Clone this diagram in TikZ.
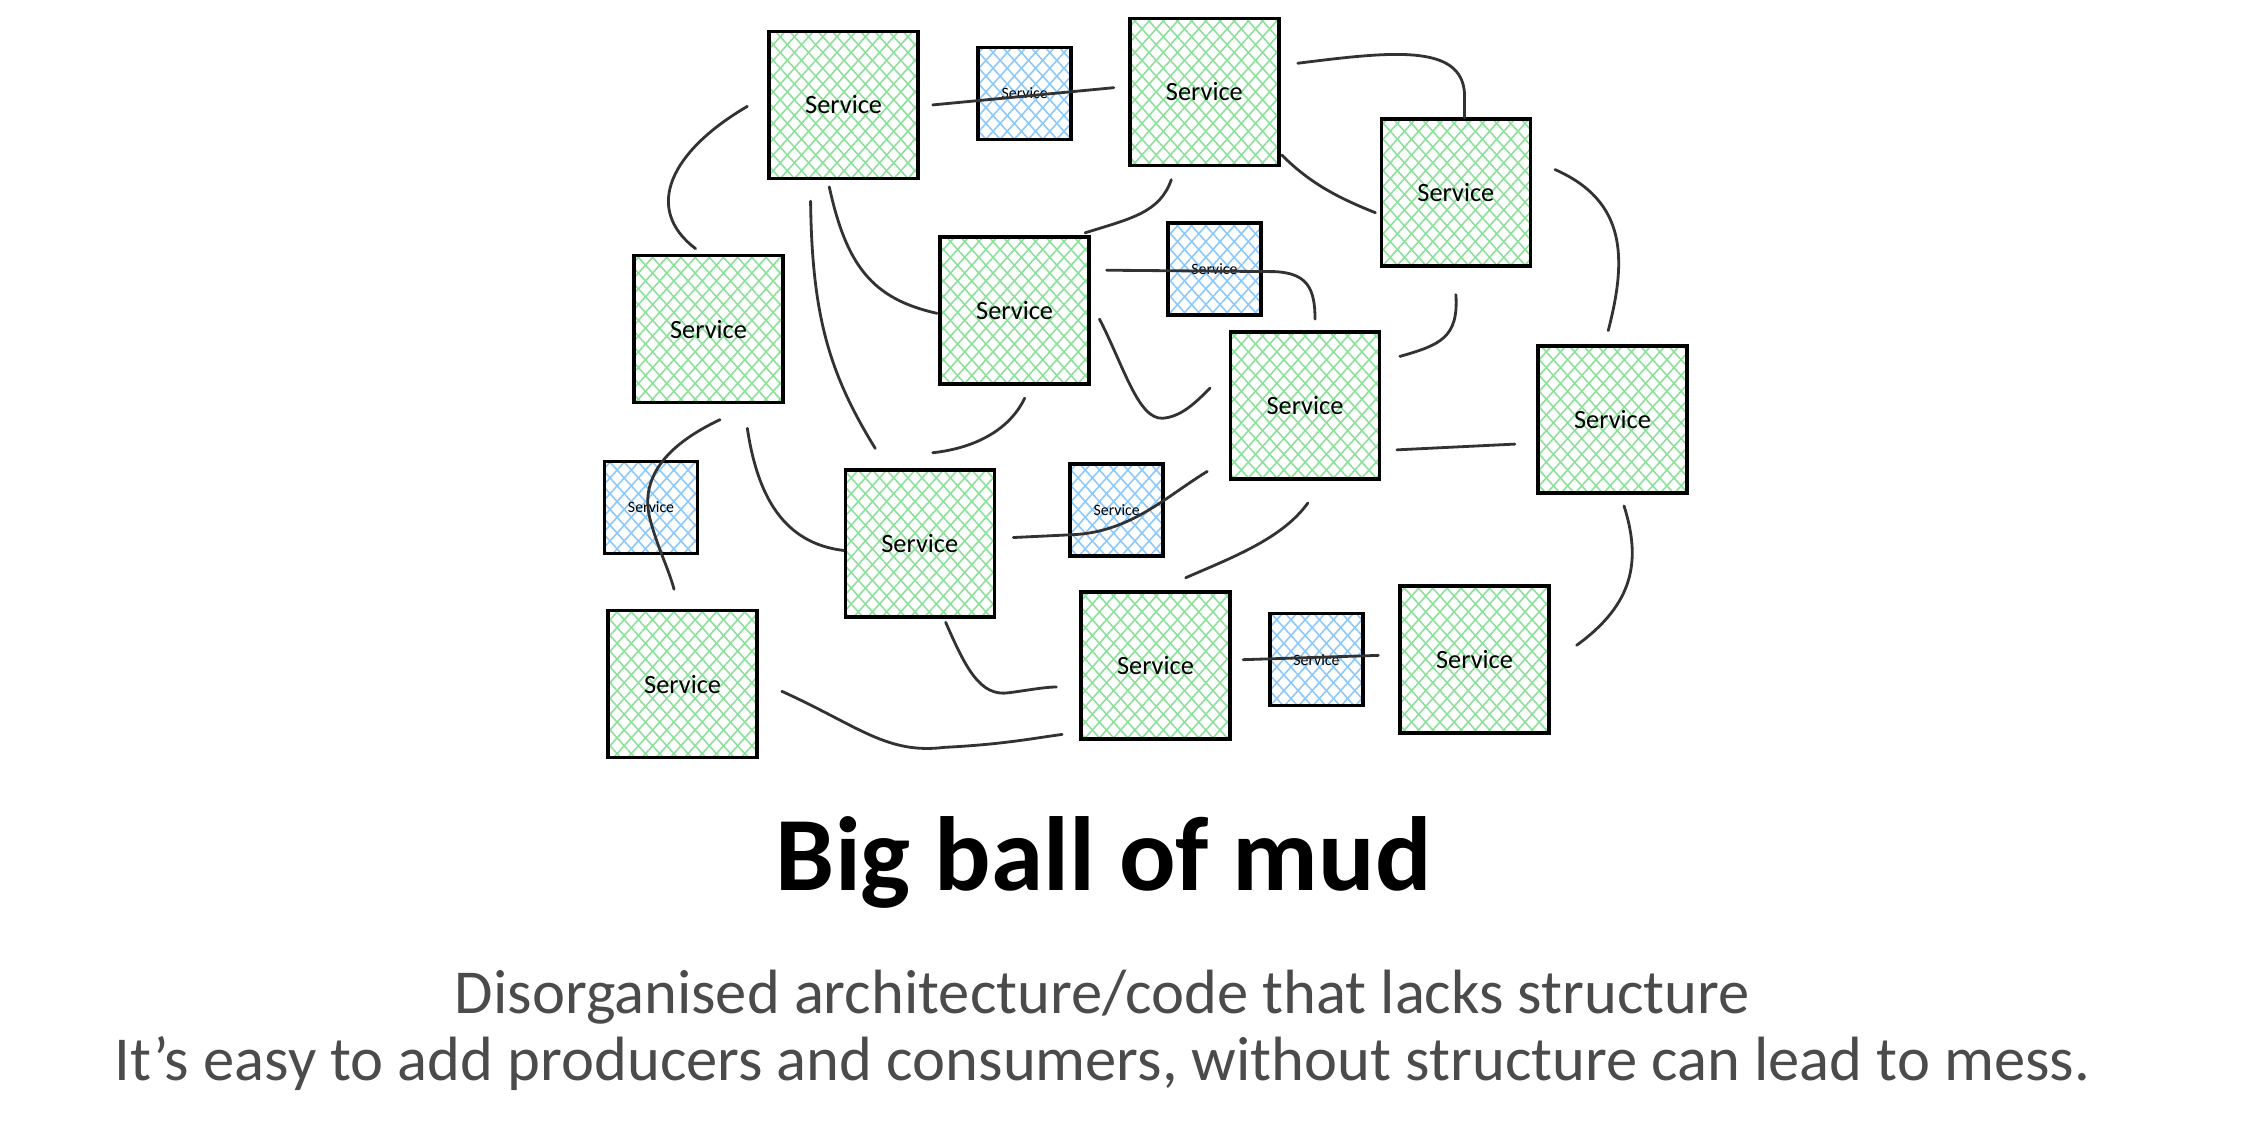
\documentclass[tikz,border=0pt]{standalone}
\usepackage{fontspec}
\setmainfont{Carlito}
\usetikzlibrary{patterns.meta,calc}
\definecolor{hg}{RGB}{140,224,154}
\definecolor{hb}{RGB}{140,200,250}
\definecolor{ln}{RGB}{50,50,50}
\definecolor{subc}{RGB}{75,75,75}
\begin{document}
\begin{tikzpicture}[x=0.01437cm,y=-0.01437cm,
  svc/.style={draw=black,line width=1pt,minimum width=1.49cm,minimum height=1.47cm,inner sep=0pt,
    preaction={pattern={Lines[angle=48,distance=3pt,line width=.45pt]},pattern color=hg},
    pattern={Lines[angle=-48,distance=3pt,line width=.45pt]},pattern color=hg,
    font=\fontsize{7.5}{8}\selectfont},
  bus/.style={draw=black,line width=1pt,minimum width=0.93cm,minimum height=0.92cm,inner sep=0pt,
    preaction={pattern={Lines[angle=48,distance=3pt,line width=.45pt]},pattern color=hb},
    pattern={Lines[angle=-48,distance=3pt,line width=.45pt]},pattern color=hb,
    font=\fontsize{4.5}{5}\selectfont},
  conn/.style={draw=ln,line width=0.8pt,line cap=round}]
\useasboundingbox (3,0) rectangle (1563,782);
% green services
\node[svc] (g1) at (590,73) {Service};
\node[svc] (g2) at (841,64) {Service};
\node[svc] (g3) at (1016,134) {Service};
\node[svc] (g4) at (496,229) {Service};
\node[svc] (g5) at (709,216) {Service};
\node[svc] (g6) at (911,282) {Service};
\node[svc] (g7) at (1125,292) {Service};
\node[svc] (g8) at (643,378) {Service};
\node[svc] (g9) at (478,476) {Service};
\node[svc] (g10) at (807,463) {Service};
\node[svc] (g11) at (1029,459) {Service};
% blue services
\node[bus] (b1) at (716,65) {Service};
\node[bus] (b2) at (848,187) {Service};
\node[bus] (b3) at (456,353) {Service};
\node[bus] (b4) at (780,355) {Service};
\node[bus] (b5) at (919,459) {Service};
% connectors
\draw[conn] ($(g1)+(-67,1)$) .. controls (470,105) and (450,145) .. ($(g4)+(-9,-56)$);
\draw[conn] ($(g1)+(62,0)$) -- ($(g2)+(-63,-3)$);
\draw[conn] ($(g2)+(65,-20)$) .. controls (970,36) and (1020,30) .. (1022,65) -- ($(g3)+(6,-52)$);
\draw[conn] ($(g2)+(54,44)$) .. controls (915,128) and (935,138) .. ($(g3)+(-56,14)$);
\draw[conn] ($(g2)+(-23,61)$) .. controls (810,148) and (790,152) .. ($(g5)+(49,-54)$);
\draw[conn] ($(g1)+(-10,57)$) .. controls (592,185) and (610,208) .. ($(g5)+(-54,2)$);
\draw[conn] ($(g1)+(-23,67)$) .. controls (568,220) and (580,260) .. ($(g8)+(-31,-66)$);
\draw[conn] ($(g5)+(64,-28)$) -- (890,189) .. controls (912,190) and (918,200) .. ($(g6)+(7,-60)$);
\draw[conn] ($(g3)+(0,71)$) .. controls (1018,235) and (1005,240) .. ($(g6)+(66,-34)$);
\draw[conn] ($(g3)+(69,-16)$) .. controls (1135,140) and (1135,180) .. ($(g7)+(-3,-62)$);
\draw[conn] ($(g5)+(59,6)$) .. controls (785,255) and (795,292) .. (812,291) .. controls (825,290) and (835,280) .. ($(g6)+(-66,-12)$);
\draw[conn] ($(g5)+(7,61)$) .. controls (705,300) and (680,312) .. ($(g8)+(9,-63)$);
\draw[conn] ($(g6)+(64,31)$) -- ($(g7)+(-68,17)$);
\draw[conn] ($(g4)+(8,63)$) .. controls (470,308) and (448,330) .. (455,360) .. controls (460,380) and (468,395) .. ($(g9)+(-6,-66)$);
\draw[conn] ($(g4)+(27,69)$) .. controls (530,345) and (548,378) .. ($(g8)+(-53,5)$);
\draw[conn] ($(g8)+(65,-4)$) -- (750,372) .. controls (790,370) and (815,345) .. ($(g6)+(-68,46)$);
\draw[conn] ($(g6)+(2,68)$) .. controls (895,375) and (860,388) .. ($(g10)+(21,-61)$);
\draw[conn] ($(g8)+(18,55)$) .. controls (675,465) and (685,485) .. (705,482) .. controls (720,480) and (730,478) .. ($(g10)+(-69,15)$);
\draw[conn] ($(g9)+(69,5)$) .. controls (600,505) and (620,525) .. (660,520) .. controls (700,518) and (720,514) .. ($(g10)+(-65,48)$);
\draw[conn] ($(g10)+(61,-4)$) -- ($(g11)+(-67,-3)$);
\draw[conn] ($(g7)+(8,60)$) .. controls (1145,390) and (1140,420) .. ($(g11)+(71,-10)$);
% texts
\node[font=\fontsize{30}{32}\selectfont\bfseries] (title) at (771,600) {Big ball of mud};
\node[font=\fontsize{17.8}{20}\selectfont,text=subc] (sub1) at (770,694) {Disorganised architecture/code that lacks structure};
\node[font=\fontsize{17.8}{20}\selectfont,text=subc] (sub2) at (770,740) {It's easy to add producers and consumers, without structure can lead to mess.};
\end{tikzpicture}
\end{document}
